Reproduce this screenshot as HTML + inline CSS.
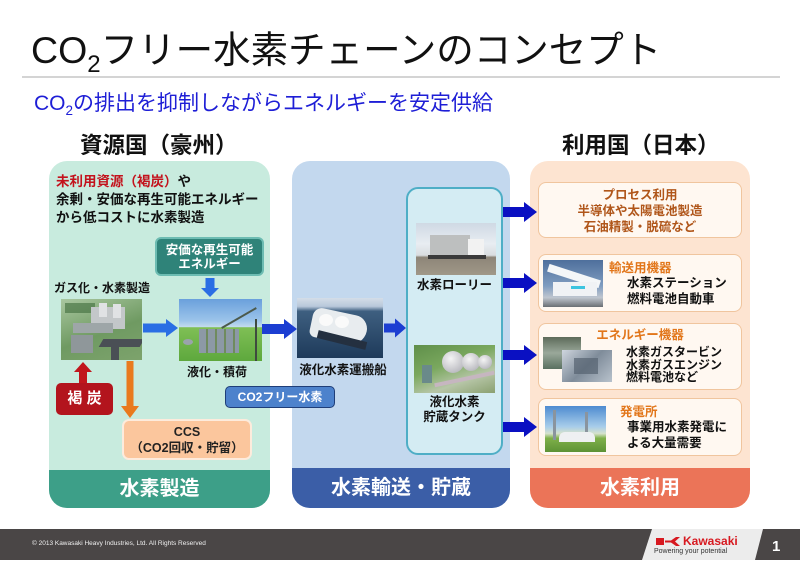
<!DOCTYPE html>
<html><head><meta charset="utf-8">
<style>
*{margin:0;padding:0;box-sizing:border-box}
body{width:800px;height:566px;position:relative;background:#fff;overflow:hidden;font-family:"Liberation Sans","Noto Sans CJK JP",sans-serif}
.a{position:absolute}
.t{position:absolute;white-space:nowrap;font-weight:bold;color:#111;font-family:"Liberation Sans","Noto Sans CJK JP",sans-serif}
.c{text-align:center}
.img{position:absolute;overflow:hidden}
</style></head><body>

<!-- Title -->
<div class="a" style="left:31px;top:27px;font-size:37.5px;line-height:46px;color:#111;white-space:nowrap;font-weight:400">CO<span style="font-size:24px;position:relative;top:9px">2</span>フリー水素チェーンのコンセプト</div>
<div class="a" style="left:22px;top:76px;width:758px;height:2px;background:#d4d4d4"></div>
<div class="a" style="left:34px;top:92px;font-size:21px;line-height:24px;color:#1e1ed6;white-space:nowrap">CO<span style="font-size:13.5px;position:relative;top:5px">2</span>の排出を抑制しながらエネルギーを安定供給</div>

<div class="t" style="left:80px;top:132px;font-size:22.5px;line-height:27px">資源国（豪州）</div>
<div class="t" style="left:562px;top:132px;font-size:22.5px;line-height:27px">利用国（日本）</div>

<!-- Left panel -->
<div class="a" style="left:49px;top:161px;width:221px;height:347px;background:#c8ebde;border-radius:18px;overflow:hidden">
  <div class="a" style="left:0;top:309px;width:221px;height:38px;background:#3d9f88"></div>
</div>
<div class="t c" style="left:49px;top:470px;width:221px;font-size:20px;line-height:38px;color:#fff">水素製造</div>

<div class="t" style="left:56px;top:173px;font-size:13.5px;line-height:18px"><span style="color:#c3121c">未利用資源（褐炭）</span>や<br>余剰・安価な再生可能エネルギー<br>から低コストに水素製造</div>

<div class="a" style="left:155px;top:237px;width:109px;height:39px;background:#2f8379;border:2px solid #6dbcb2;border-radius:6px"></div>
<div class="t c" style="left:155px;top:243px;width:109px;font-size:12.5px;line-height:14px;color:#fff">安価な再生可能<br>エネルギー</div>

<div class="t" style="left:54px;top:280px;font-size:12px;line-height:16px">ガス化・水素製造</div>

<!-- gas plant image -->
<div class="img" style="left:61px;top:299px;width:81px;height:61px;background:linear-gradient(160deg,#a9c7a0 0%,#6f9a62 55%,#7da36c 100%)">
  <div class="a" style="left:4px;top:4px;width:30px;height:10px;background:#3d6b3a;opacity:.6"></div>
  <div class="a" style="left:30px;top:8px;width:34px;height:22px;background:#c3c7c9"></div>
  <div class="a" style="left:38px;top:4px;width:8px;height:14px;background:#e0e2e4"></div>
  <div class="a" style="left:52px;top:5px;width:8px;height:14px;background:#e0e2e4"></div>
  <div class="a" style="left:12px;top:24px;width:40px;height:10px;background:#9ea6a8"></div>
  <div class="a" style="left:10px;top:36px;width:22px;height:18px;background:#8f979a"></div>
  <div class="a" style="left:40px;top:40px;width:41px;height:8px;background:#4a4f55;transform:skewX(-30deg)"></div>
  <div class="a" style="left:50px;top:48px;width:8px;height:13px;background:#4a4f55"></div>
</div>
<!-- liquefaction image -->
<div class="img" style="left:179px;top:299px;width:83px;height:62px;background:linear-gradient(180deg,#6aa0dc 0%,#9cc4ea 35%,#c4dcee 45%,#7fbf55 46%,#5ea83d 100%)">
  <div class="a" style="left:20px;top:30px;width:40px;height:24px;background:repeating-linear-gradient(90deg,#8c99a6 0 7px,#6f8b5e 7px 9px)"></div>
  <div class="a" style="left:4px;top:40px;width:10px;height:6px;border-radius:50%;background:#9aa3ab"></div>
  <div class="a" style="left:40px;top:18px;width:40px;height:2px;background:#4c5a4c;transform:rotate(-30deg)"></div>
  <div class="a" style="left:76px;top:20px;width:2px;height:42px;background:#3f4a3f"></div>
</div>

<div class="t c" style="left:177px;top:364px;width:80px;font-size:12px;line-height:16px">液化・積荷</div>

<div class="a" style="left:56px;top:383px;width:57px;height:32px;background:#b3141d;border-radius:5px"></div>
<div class="t c" style="left:56px;top:383px;width:57px;font-size:15px;line-height:32px;color:#fff">褐 炭</div>

<div class="a" style="left:122px;top:419px;width:130px;height:41px;background:#fbc69d;border:2px solid #fdebdc;border-radius:7px"></div>
<div class="t c" style="left:122px;top:424px;width:130px;font-size:12.5px;line-height:16px;color:#222">CCS<br>（CO2回収・貯留）</div>

<!-- Middle panel -->
<div class="a" style="left:292px;top:161px;width:218px;height:347px;background:#c3d8ee;border-radius:18px;overflow:hidden">
  <div class="a" style="left:0;top:307px;width:218px;height:40px;background:#3b5ea7"></div>
</div>
<div class="t c" style="left:292px;top:468px;width:218px;font-size:20px;line-height:40px;color:#fff">水素輸送・貯蔵</div>

<div class="a" style="left:406px;top:187px;width:97px;height:268px;background:#d4ecf3;border:2px solid #4eaec6;border-radius:12px"></div>

<!-- ship -->
<div class="img" style="left:297px;top:298px;width:86px;height:60px;background:linear-gradient(180deg,#d4dde8 0%,#b8c8da 14%,#3e5f80 22%,#1e3a5a 100%)">
  <div class="a" style="left:14px;top:14px;width:56px;height:30px;background:#e8ecef;border-radius:12px 18px 22px 8px;transform:rotate(12deg)"></div>
  <div class="a" style="left:22px;top:16px;width:14px;height:12px;border-radius:50%;background:#fafafa"></div>
  <div class="a" style="left:38px;top:18px;width:14px;height:12px;border-radius:50%;background:#fafafa"></div>
  <div class="a" style="left:20px;top:38px;width:50px;height:8px;background:#243040;transform:rotate(14deg)"></div>
</div>
<div class="t c" style="left:292px;top:362px;width:102px;font-size:12.5px;line-height:16px">液化水素運搬船</div>

<div class="a" style="left:225px;top:386px;width:110px;height:22px;background:#4d82cc;border:1.5px solid #1f3e78;border-radius:5px"></div>
<div class="t c" style="left:225px;top:386px;width:110px;font-size:12px;line-height:22px;color:#fff">CO2フリー水素</div>

<!-- truck -->
<div class="img" style="left:416px;top:223px;width:80px;height:52px;background:linear-gradient(180deg,#cfd9e4 0%,#e8edf2 40%,#d9dde0 62%,#8d8578 66%,#a09888 100%)">
  <div class="a" style="left:14px;top:12px;width:40px;height:20px;background:#bdbfbf"></div>
  <div class="a" style="left:52px;top:16px;width:16px;height:18px;background:#f2f2f2"></div>
  <div class="a" style="left:12px;top:32px;width:58px;height:4px;background:#3a3a3a"></div>
</div>
<div class="t c" style="left:406px;top:277px;width:97px;font-size:12.5px;line-height:16px">水素ローリー</div>

<!-- tank -->
<div class="img" style="left:414px;top:345px;width:81px;height:48px;background:linear-gradient(160deg,#5f8f4a 0%,#7aa85e 40%,#b7c6a8 70%,#8aa070 100%)">
  <div class="a" style="left:28px;top:6px;width:22px;height:22px;border-radius:50%;background:radial-gradient(circle at 40% 35%,#f4f4f4,#a8a8b0)"></div>
  <div class="a" style="left:48px;top:8px;width:18px;height:18px;border-radius:50%;background:radial-gradient(circle at 40% 35%,#f4f4f4,#a8a8b0)"></div>
  <div class="a" style="left:64px;top:10px;width:14px;height:14px;border-radius:50%;background:radial-gradient(circle at 40% 35%,#f4f4f4,#a8a8b0)"></div>
  <div class="a" style="left:8px;top:20px;width:10px;height:18px;background:#6a8a8a"></div>
  <div class="a" style="left:20px;top:32px;width:61px;height:4px;background:#c6b6c0;transform:rotate(-12deg)"></div>
</div>
<div class="t c" style="left:406px;top:395px;width:97px;font-size:12.5px;line-height:15px">液化水素<br>貯蔵タンク</div>

<!-- Right panel -->
<div class="a" style="left:530px;top:161px;width:220px;height:347px;background:#fde4d1;border-radius:18px;overflow:hidden">
  <div class="a" style="left:0;top:307px;width:220px;height:40px;background:#eb7458"></div>
</div>
<div class="t c" style="left:530px;top:468px;width:220px;font-size:20px;line-height:40px;color:#fff">水素利用</div>

<div class="a" style="left:538px;top:182px;width:204px;height:56px;background:#fff8f1;border:1.5px solid #f0c59e;border-radius:8px"></div>
<div class="t c" style="left:538px;top:187px;width:204px;font-size:12.5px;line-height:16px;color:#b0561a">プロセス利用<br>半導体や太陽電池製造<br>石油精製・脱硫など</div>

<div class="a" style="left:538px;top:254px;width:204px;height:58px;background:#fff8f1;border:1.5px solid #f0c59e;border-radius:8px"></div>
<div class="img" style="left:543px;top:260px;width:60px;height:47px;background:linear-gradient(180deg,#4e6f9c 0%,#7f9cc0 55%,#bfc6cf 80%,#6a6f74 100%)">
  <div class="a" style="left:4px;top:12px;width:54px;height:8px;background:#f4f6f8;transform:rotate(18deg)"></div>
  <div class="a" style="left:10px;top:22px;width:44px;height:14px;background:#f0f2f5"></div>
  <div class="a" style="left:28px;top:26px;width:14px;height:3px;background:#3cc4e0"></div>
</div>
<div class="t" style="left:609px;top:260px;font-size:12.5px;line-height:16px;color:#e2761a">輸送用機器</div>
<div class="t" style="left:627px;top:275px;font-size:12.5px;line-height:16px">水素ステーション<br>燃料電池自動車</div>

<div class="a" style="left:538px;top:323px;width:204px;height:67px;background:#fff8f1;border:1.5px solid #f0c59e;border-radius:8px"></div>
<div class="t c" style="left:538px;top:327px;width:204px;font-size:12.5px;line-height:16px;color:#e2761a">エネルギー機器</div>
<div class="img" style="left:543px;top:337px;width:38px;height:32px;background:linear-gradient(180deg,#5d6b5a,#9aa89a 50%,#5a7060)"></div>
<div class="img" style="left:562px;top:350px;width:50px;height:32px;background:linear-gradient(135deg,#cfd6de,#7f8c9a 50%,#b8c2cc)">
  <div class="a" style="left:12px;top:8px;width:24px;height:16px;background:#566270;opacity:.7"></div>
</div>
<div class="t" style="left:626px;top:346px;font-size:12px;line-height:12.5px">水素ガスタービン<br>水素ガスエンジン<br>燃料電池など</div>

<div class="a" style="left:538px;top:398px;width:204px;height:58px;background:#fff8f1;border:1.5px solid #f0c59e;border-radius:8px"></div>
<div class="img" style="left:545px;top:406px;width:61px;height:46px;background:linear-gradient(180deg,#4d8bd0 0%,#a8cdea 45%,#d6e2cc 60%,#7fb04a 70%,#5d9235 100%)">
  <div class="a" style="left:8px;top:4px;width:3px;height:30px;background:#8a949e"></div>
  <div class="a" style="left:40px;top:6px;width:3px;height:30px;background:#8a949e"></div>
  <div class="a" style="left:14px;top:26px;width:36px;height:10px;background:#eef0f2;border-radius:6px 6px 0 0"></div>
</div>
<div class="t" style="left:620px;top:404px;font-size:12.5px;line-height:16px;color:#e2761a">発電所</div>
<div class="t" style="left:627px;top:420px;font-size:12.5px;line-height:15.5px">事業用水素発電に<br>よる大量需要</div>

<!-- Arrows -->
<svg class="a" style="left:0;top:0" width="800" height="566" viewBox="0 0 800 566">
  <polygon points="205.5,278 214.5,278 214.5,288 219,288 210,297 201,288 205.5,288" fill="#2a6ee4"/>
  <polygon points="143,323.5 166,323.5 166,319 178,328 166,337 166,332.5 143,332.5" fill="#2a6ee4"/>
  <polygon points="79,383 87,383 87,372 92,372 83,362 74,372 79,372" fill="#c1161c"/>
  <polygon points="126.5,361 133.5,361 133.5,406 139,406 130,418 121,406 126.5,406" fill="#e97a1d"/>
  <polygon points="262,324 284,324 284,319 297,329 284,339 284,334 262,334" fill="#1c3ed2"/>
  <polygon points="384,323.5 395,323.5 395,318.5 406,328 395,337.5 395,332.5 384,332.5" fill="#1c3ed2"/>
  <polygon points="503,207 524,207 524,202 537,212 524,222 524,217 503,217" fill="#0a10c2"/>
  <polygon points="503,278 524,278 524,273 537,283 524,293 524,288 503,288" fill="#0a10c2"/>
  <polygon points="503,350 524,350 524,345 537,355 524,365 524,360 503,360" fill="#0a10c2"/>
  <polygon points="503,422 524,422 524,417 537,427 524,437 524,432 503,432" fill="#0a10c2"/>
  <rect x="0" y="529" width="800" height="31" fill="#4a4646"/>
  <polygon points="652,529 763,529 755,560 642,560" fill="#ececec"/>
  <rect x="656" y="538" width="8" height="7" fill="#d71920"/>
  <polygon points="665,540.5 671,540.5 676,537 680,537 675,541.5 680,546 676,546 671,542.5 665,542.5" fill="#d71920"/>
</svg>

<div class="a" style="left:32px;top:540px;font-size:6.5px;line-height:8px;color:#f0f0f0;white-space:nowrap">© 2013 Kawasaki Heavy Industries, Ltd. All Rights Reserved</div>
<div class="a" style="left:683px;top:535px;font-size:12px;line-height:13px;color:#d71920;font-weight:bold;white-space:nowrap">Kawasaki</div>
<div class="a" style="left:654px;top:547px;font-size:7px;line-height:9px;color:#333;white-space:nowrap">Powering your potential</div>
<div class="a" style="left:772px;top:538px;font-size:15px;line-height:18px;color:#fff;font-weight:bold">1</div>

</body></html>
